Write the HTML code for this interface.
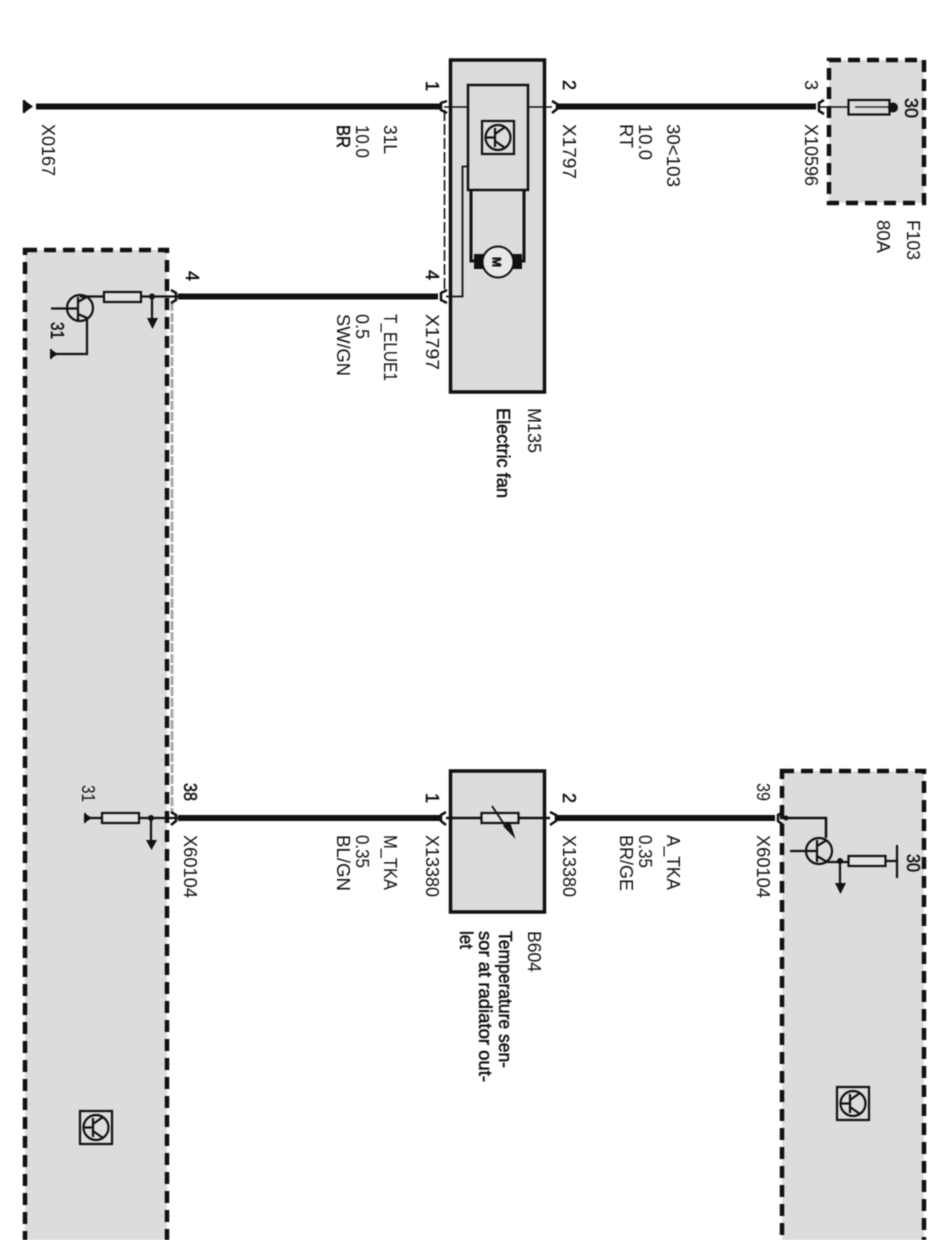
<!DOCTYPE html>
<html><head><meta charset="utf-8"><style>
html,body{margin:0;padding:0;background:#fff;width:947px;height:1240px;overflow:hidden}
svg{display:block;filter:blur(.45px)}
text{font-family:"Liberation Sans",sans-serif;font-size:18px;fill:#111}
.b{stroke:#111;stroke-width:.5px}
</style></head><body>
<svg width="947" height="1240" viewBox="0 0 947 1240" xmlns="http://www.w3.org/2000/svg">
<defs>
<g id="ic"><rect x="1" y="1" width="32" height="33" fill="#ddd" stroke="#111" stroke-width="2.200"/><circle cx="17" cy="17.500" r="12.500" fill="none" stroke="#111" stroke-width="2.200"/><path d="M5 17.500H14M14 8V27M14 14L24 7M14 21L24 28" fill="none" stroke="#111" stroke-width="2.200"/></g>
</defs>
<g fill="#dcdcdc" stroke="#111" stroke-width="4.500" stroke-dasharray="12 7">
<rect x="25" y="250" width="142" height="1010"/>
<rect x="782" y="771" width="142" height="489"/>
<rect x="829" y="60" width="95" height="143"/>
</g>
<path d="M172 302V812" stroke="#aaa" stroke-width="3" stroke-dasharray="9 2" fill="none"/>
<rect x="450.500" y="60" width="94" height="332" fill="#dcdcdc" stroke="#111" stroke-width="3.500"/>
<rect x="450.500" y="771" width="94" height="141" fill="#dcdcdc" stroke="#111" stroke-width="3.500"/>
<rect x="468" y="85" width="60" height="105" fill="#dcdcdc" stroke="#111" stroke-width="2.500"/>

<!-- thick wires -->
<g stroke="#111" stroke-width="6" fill="none">
<path d="M36 106.500H440M556 106.500H816M178 296.500H438M178 818H440M556 818H775"/>
</g>
<path d="M33 106.500L24 100V113Z" fill="#111"/>
<path d="M24 100V113" stroke="#111" stroke-width="2.500"/>

<!-- connectors -->
<g fill="none" stroke="#111" stroke-width="2.500">
<path d="M447 101L441 103V110L447 113"/>
<path d="M447 290L441 293V300L447 303"/>
<path d="M552 101L557 104V109L552 113"/>
<path d="M824 100L819 103V111L824 114"/>
<path d="M446 812L441 815V821L446 825"/>
<path d="M550 812L556 815V821L550 825"/>
<path d="M171 290L176 293V300L171 303"/>
<path d="M171 812L176 815V821L171 825"/>
<path d="M783 812L778 815V821L783 825"/>
</g>

<!-- M135 internals -->
<path d="M444 107H468M528 107H552" stroke="#111" stroke-width="1.600" fill="none"/>
<path d="M444.500 110V292" stroke="#111" stroke-width="1.600" stroke-dasharray="11 3" fill="none"/>
<path d="M446 296.500H462.500V166.500H468" stroke="#111" stroke-width="1.800" fill="none"/>
<use href="#ic" x="481" y="120"/>
<path d="M471 190V261H476M524 190V261H518" stroke="#111" stroke-width="3" fill="none"/>
<rect x="474" y="254" width="11" height="15" fill="#111"/>
<rect x="511" y="254" width="11" height="15" fill="#111"/>
<circle cx="498" cy="262" r="15.500" fill="#e8e8e8" stroke="#111" stroke-width="2"/>
<text class="b" transform="translate(492.500,257) rotate(90)" style="font-size:12px;font-weight:bold">M</text>

<!-- F103 -->
<path d="M820 107H849" stroke="#111" stroke-width="1.600"/>
<rect x="848.500" y="100" width="41" height="14.500" fill="#dcdcdc" stroke="#111" stroke-width="2.200"/>
<path d="M855 107H892" stroke="#111" stroke-width="1.200"/>
<circle cx="893" cy="107.500" r="5" fill="#111"/>

<!-- Left control unit -->
<path d="M178 296.500H141M104 296.500H80" stroke="#111" stroke-width="2.200" fill="none"/>
<rect x="104" y="292" width="37" height="10" fill="#e4e4e4" stroke="#111" stroke-width="2.200"/>
<circle cx="152" cy="296.500" r="3" fill="#111"/>
<path d="M152 296V320" stroke="#111" stroke-width="2.200"/>
<path d="M147 318H158L152.500 329Z" fill="#111"/>
<circle cx="80" cy="308" r="13" fill="none" stroke="#111" stroke-width="2.200"/>
<path d="M51 308.500H78M78 297V320M78 302L88 296M78 314L87 318V354H53" fill="none" stroke="#111" stroke-width="2.200"/>
<path d="M58 354L51 349.500V358.500Z" fill="#111"/>
<path d="M51 349V359" stroke="#111" stroke-width="2"/>

<path d="M178 818H139M102 818H90" stroke="#111" stroke-width="2.200" fill="none"/>
<rect x="102" y="813" width="37" height="10" fill="#e4e4e4" stroke="#111" stroke-width="2.200"/>
<circle cx="151" cy="818" r="3" fill="#111"/>
<path d="M151 818V842" stroke="#111" stroke-width="2.200"/>
<path d="M146 840H157L151.500 850Z" fill="#111"/>
<path d="M92 818L85 813.500V822.500Z" fill="#111"/>
<path d="M85 813V823" stroke="#111" stroke-width="2"/>

<!-- B604 -->
<path d="M446 818H481M518 818H550" stroke="#111" stroke-width="2.500" fill="none"/>
<rect x="481.500" y="813" width="37" height="10" fill="#e4e4e4" stroke="#111" stroke-width="2.200"/>
<path d="M492 806L506 827" stroke="#111" stroke-width="1.800"/>
<path d="M503 826L510 822L515.500 839Z" fill="#111"/>

<!-- Right control unit -->
<path d="M780 818H826V838" fill="none" stroke="#111" stroke-width="2.500"/>
<circle cx="786" cy="818" r="2.500" fill="#111"/>
<circle cx="819" cy="851" r="13" fill="none" stroke="#111" stroke-width="2.200"/>
<path d="M790 851H817M817 840V862M817 846L827 840M817 856L827 862H848" fill="none" stroke="#111" stroke-width="2.200"/>
<rect x="848.500" y="856" width="37" height="10" fill="#e4e4e4" stroke="#111" stroke-width="2.200"/>
<circle cx="840" cy="861" r="3" fill="#111"/>
<path d="M840 861V885" stroke="#111" stroke-width="2.200"/>
<path d="M835 883H846L840.500 894Z" fill="#111"/>
<path d="M886 861H897M897 845V878" fill="none" stroke="#111" stroke-width="2.200"/>

<use href="#ic" x="79" y="1110"/>
<use href="#ic" x="836" y="1086"/>

<!-- labels -->
<g transform="translate(2,0)">
<text transform="translate(40,124) rotate(90)" textLength="52" lengthAdjust="spacingAndGlyphs">X0167</text>
<text transform="translate(424,81) rotate(90)" class="b">1</text>
<text transform="translate(561,80) rotate(90)" class="b">2</text>
<text transform="translate(803,80) rotate(90)">3</text>
<text transform="translate(382,125) rotate(90)" textLength="29" lengthAdjust="spacingAndGlyphs">31L</text>
<text transform="translate(354,125) rotate(90)" textLength="33" lengthAdjust="spacingAndGlyphs">10.0</text>
<text transform="translate(335,125) rotate(90)" textLength="23" lengthAdjust="spacingAndGlyphs" class="b">BR</text>
<text transform="translate(561,124) rotate(90)" textLength="55" lengthAdjust="spacingAndGlyphs">X1797</text>
<text transform="translate(665,124) rotate(90)" textLength="63" lengthAdjust="spacingAndGlyphs">30&lt;103</text>
<text transform="translate(637,124) rotate(90)" textLength="36" lengthAdjust="spacingAndGlyphs">10.0</text>
<text transform="translate(618,124) rotate(90)" textLength="24" lengthAdjust="spacingAndGlyphs">RT</text>
<text transform="translate(803,124) rotate(90)" textLength="62" lengthAdjust="spacingAndGlyphs">X10596</text>
<text transform="translate(905,220) rotate(90)" textLength="40" lengthAdjust="spacingAndGlyphs">F103</text>
<text transform="translate(875,220) rotate(90)" textLength="33" lengthAdjust="spacingAndGlyphs">80A</text>
<text transform="translate(903,98) rotate(90)" textLength="20" lengthAdjust="spacingAndGlyphs" class="b">30</text>
<text transform="translate(184,271) rotate(90)" class="b">4</text>
<text transform="translate(424,270) rotate(90)" class="b">4</text>
<text transform="translate(424,314) rotate(90)" textLength="56" lengthAdjust="spacingAndGlyphs">X1797</text>
<text transform="translate(382,314) rotate(90)" textLength="67" lengthAdjust="spacingAndGlyphs">T_ELUE1</text>
<text transform="translate(354,314) rotate(90)" textLength="25" lengthAdjust="spacingAndGlyphs">0.5</text>
<text transform="translate(335,314) rotate(90)" textLength="62" lengthAdjust="spacingAndGlyphs">SW/GN</text>
<text transform="translate(49,322) rotate(90)" textLength="17" lengthAdjust="spacingAndGlyphs" class="b">31</text>
<text transform="translate(526,408) rotate(90)" textLength="45" lengthAdjust="spacingAndGlyphs">M135</text>
<text transform="translate(495,408) rotate(90)" textLength="90" lengthAdjust="spacingAndGlyphs" class="b">Electric fan</text>
<text transform="translate(80,785) rotate(90)" textLength="17" lengthAdjust="spacingAndGlyphs">31</text>
<text transform="translate(182,783) rotate(90)" textLength="18" lengthAdjust="spacingAndGlyphs" class="b">38</text>
<text transform="translate(182,835) rotate(90)" textLength="63" lengthAdjust="spacingAndGlyphs">X60104</text>
<text transform="translate(424,793) rotate(90)" class="b">1</text>
<text transform="translate(561,793) rotate(90)" class="b">2</text>
<text transform="translate(424,835) rotate(90)" textLength="62" lengthAdjust="spacingAndGlyphs">X13380</text>
<text transform="translate(561,835) rotate(90)" textLength="62" lengthAdjust="spacingAndGlyphs">X13380</text>
<text transform="translate(382,835) rotate(90)" textLength="55" lengthAdjust="spacingAndGlyphs">M_TKA</text>
<text transform="translate(354,835) rotate(90)" textLength="33" lengthAdjust="spacingAndGlyphs">0.35</text>
<text transform="translate(335,835) rotate(90)" textLength="56" lengthAdjust="spacingAndGlyphs">BL/GN</text>
<text transform="translate(665,835) rotate(90)" textLength="55" lengthAdjust="spacingAndGlyphs">A_TKA</text>
<text transform="translate(637,835) rotate(90)" textLength="33" lengthAdjust="spacingAndGlyphs">0.35</text>
<text transform="translate(618,835) rotate(90)" textLength="56" lengthAdjust="spacingAndGlyphs">BR/GE</text>
<text transform="translate(755,783) rotate(90)" textLength="18" lengthAdjust="spacingAndGlyphs">39</text>
<text transform="translate(755,835) rotate(90)" textLength="63" lengthAdjust="spacingAndGlyphs">X60104</text>
<text transform="translate(905,854) rotate(90)" textLength="18" lengthAdjust="spacingAndGlyphs" class="b">30</text>
<text transform="translate(526,931) rotate(90)" textLength="41" lengthAdjust="spacingAndGlyphs">B604</text>
<text transform="translate(497,931) rotate(90)" textLength="137" lengthAdjust="spacingAndGlyphs" class="b">Temperature sen-</text>
<text transform="translate(477,931) rotate(90)" textLength="151" lengthAdjust="spacingAndGlyphs" class="b">sor at radiator out-</text>
<text transform="translate(458,931) rotate(90)" textLength="18" lengthAdjust="spacingAndGlyphs" class="b">let</text>
</g>
</svg>
</body></html>
